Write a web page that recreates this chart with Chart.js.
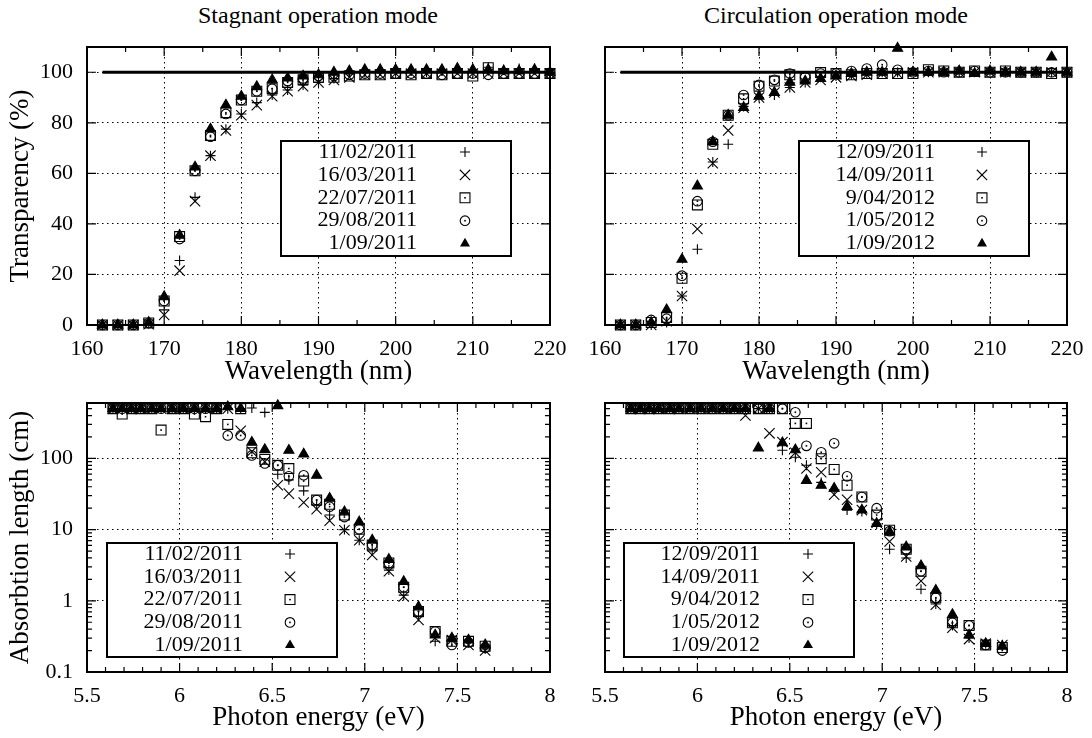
<!DOCTYPE html>
<html><head><meta charset="utf-8">
<script src="https://cdn.jsdelivr.net/npm/chart.js@4.4.1/dist/chart.umd.min.js"></script>
<style>
html,body{margin:0;padding:0;background:#fff;}
body{width:1092px;height:738px;position:relative;overflow:hidden;font-family:'Liberation Serif',serif;}
.box{position:absolute;}
.ttl{position:absolute;top:0;font-family:'Liberation Serif',serif;font-size:24px;color:#000;text-align:center;width:500px;line-height:30px;}
</style></head>
<body>
<div class="ttl" style="left:68px">Stagnant operation mode</div>
<div class="ttl" style="left:586px">Circulation operation mode</div>
<div class="box" style="left:0;top:0;width:590px;height:392px"><canvas id="tl"></canvas></div>
<div class="box" style="left:518px;top:0;width:589px;height:392px"><canvas id="tr"></canvas></div>
<div class="box" style="left:0;top:360px;width:590px;height:378px"><canvas id="bl"></canvas></div>
<div class="box" style="left:518px;top:360px;width:589px;height:378px"><canvas id="br"></canvas></div>
<script>
// ---------- data ----------
const wavelength = [162,164,166,168,170,172,174,176,178,180,182,184,186,188,190,192,194,196,198,200,202,204,206,208,210,212,214,216,218,220];
const energy = [7.65,7.56,7.47,7.38,7.29,7.21,7.13,7.04,6.97,6.89,6.81,6.74,6.67,6.59,6.53,6.46,6.39,6.33,6.26,6.20,6.14,6.08,6.02,5.96,5.90,5.85,5.79,5.74,5.69,5.64];

const stagnantDates = ['11/02/2011','16/03/2011','22/07/2011','29/08/2011','1/09/2011'];
const circulationDates = ['12/09/2011','14/09/2011','9/04/2012','1/05/2012','1/09/2012'];

// transparency (%) - stagnant
const tS1 = [0,0,0,0.5,6,25.5,50.5,67,77.5,83.5,88,91,93,95,96,97.5,100.5,100,101,100,100.5,100,101,101.5,101,102,101,101.5,101.5,101];
const tS2 = [0,0,0,0.3,4,21.5,49,67,77,83,87,90.5,92.5,94.5,96,97,98,99,99,99.5,99.5,99.5,99.5,99.5,99.5,99.5,99.5,99.5,99.5,99.5];
const tS3 = [0,0,0,0.8,9.5,35,61,75,84,89,92.5,93.5,96,97,98,98,98.5,99,99,99.5,99,99.5,99,99.5,98.5,101.8,99.5,99.5,99.5,99.5];
const tS4 = [0,0,0,0.8,9.5,34,61,74.5,83.5,89,92.5,93.5,96.5,97.5,98.5,98.5,99,99.5,99.5,99.5,99.5,99.5,99,99.5,99.5,99,99.5,99.5,99.5,99.5];
const tS5 = [0,0,0,1,11.2,35.5,62.5,77.5,87,90.5,94.3,97,97.7,98.5,99,100,100.5,101,101,101,101,101,101,101.5,101,101,100.5,100.5,101,100];
// transparency (%) - circulation
const tC1 = [0,0,0,1,11.5,30,64.5,71.5,86.5,90,91,94,96,98,98.5,99,99.5,100,100,100.5,100,100.5,100,100,100.5,100,100,100,100,100];
const tC2 = [0,0,0,1.5,11.5,38,64,77,86,90,92,94,96,97,98,98.5,99,99.5,99.5,100,100,100,100,100,100,100,100,100,100,100];
const tC3 = [0,0,1,3,18.5,47.5,71.5,83,89.5,94.5,96.5,99,97.8,99.9,99.5,99,99.5,99.5,99.5,99.5,101,100.5,100,100.5,100,100.5,100,100,99.5,100];
const tC4 = [0,0,2,2.5,19.5,49,72.5,83,91,95,97,99.5,98,99.5,99.5,100.5,101.5,103,101,100,100.5,100,100,100.5,100,100,100,100,100,100];
const tC5 = [0,0,1,6,26,55,72.5,83,86,90.5,92,96,96.5,97.5,98.5,99.5,100,100,109.5,100,100,100,100.5,99.5,100.5,100,100,100,106,100];

// absorption length (cm) - stagnant
const aS1 = [0.21,0.26,0.27,0.27,0.6,1.2,2.7,5,7.1,10,16,22,35,50,60,443,510,500,500,500,500,500,500,500,500,500,500,500,500,500];
const aS2 = [0.2,0.24,0.28,0.3,0.54,1.15,2.6,4.4,7.1,9.8,13.3,19.4,24,32,42,90,125,245,500,500,500,500,500,500,500,500,500,500,500,500];
const aS3 = [0.23,0.27,0.27,0.37,0.71,1.55,3.4,6.1,10.1,16,22.7,26,48,72,80,97,120,500,300,500,385,420,500,500,250,500,500,500,420,500];
const aS4 = [0.22,0.26,0.24,0.37,0.71,1.55,3.4,6.1,10.1,15,21,26,58,56,80,85,110,210,210,500,500,500,500,500,500,500,500,500,500,500];
const aS5 = [0.24,0.28,0.30,0.33,0.82,1.86,3.8,7.1,12.8,17.7,27.5,58,115,130,550,133,168,500,530,500,500,500,500,500,500,500,500,500,500,500];
// absorption length (cm) - circulation
const aC1 = [0.24,0.25,0.3,0.45,0.9,1.45,4,5.3,12,18,18.8,35,46,80,104,130,500,500,500,500,500,500,500,500,500,500,500,500,500,500];
const aC2 = [0.24,0.25,0.29,0.42,0.88,1.9,4.2,6.8,12.5,18.8,26.3,31,64,72,120,170,225,500,400,500,500,500,500,500,500,500,500,500,500,500];
const aC3 = [0.22,0.24,0.45,0.49,1.1,2.6,5.3,9.8,16,28.7,42,70,99,310,310,500,500,500,500,500,500,500,500,500,500,500,500,500,500,500];
const aC4 = [0.2,0.24,0.45,0.49,1.1,2.6,5.3,9.5,20,28.7,56,163,122,150,445,500,500,500,500,500,500,500,500,500,500,500,500,500,500,500];
const aC5 = [0.23,0.25,0.33,0.64,1.4,3.1,5.7,9.3,12.2,18.8,21,38,42,49,132,165,500,140,500,500,500,500,500,500,500,500,500,500,500,500];

// reference 100% line
const refLineX = [162,220];
const refLineY = [100,100];

// tick labels
const wlTicks = [160,170,180,190,200,210,220];
const trTicks = [0,20,40,60,80,100];
const enTicks = [5.5,6,6.5,7,7.5,8];
const alTicks = [0.1,1,10,100];

// ---------- marker styles ----------
const mStyle = [
  {ps:'cross',    r:5,   fill:false, dot:false},
  {ps:'crossRot', r:7.3, fill:false, dot:false},
  {ps:'rect',     r:7,   fill:false, dot:true},
  {ps:'circle',   r:4.8, fill:false, dot:true},
  {ps:'triangle', r:5.8, fill:true,  dot:false}
];
const MW = 1.1;

function pts(xs,ys){ return xs.map((x,i)=>({x:x,y:ys[i]})).filter(p=>p.y!=null); }
function series(xs,list,labels,withLine){
  const ds=list.map((ys,i)=>({label:labels[i],data:pts(xs,ys),pointStyle:mStyle[i].ps,pointRadius:mStyle[i].r,
    pointBorderWidth:MW,borderWidth:MW,showLine:false,clip:false,order:5-i,borderColor:'#000',pointBorderColor:'#000',
    backgroundColor:mStyle[i].fill?'#000':'rgba(0,0,0,0)',pointBackgroundColor:mStyle[i].fill?'#000':'rgba(0,0,0,0)'}));
  if(withLine){ ds.push({label:'ref',data:pts(refLineX,refLineY),showLine:true,pointRadius:0,borderColor:'#000',borderWidth:3,order:10,clip:false}); }
  return ds;
}

// minor tick positions (axis decorations)
const wlMinor=[165,175,185,195,205,215];
const enMinor=[];
for(let k=56;k<80;k++){ if(k%5!==0) enMinor.push(k/10); }
const alMinor=[];
[0.1,1,10,100].forEach(d=>{ for(let k=2;k<=9;k++){ if(d*k<=600) alMinor.push(d*k); } });

const panelCfg={
  tl:{xMinor:wlMinor,yMinor:[],legend:{x:281,y:141,w:230,h:115,tr:417,sx:465,r0:152,dr:22.9}},
  tr:{xMinor:wlMinor,yMinor:[],legend:{x:281,y:141,w:230,h:115,tr:417,sx:464,r0:152,dr:22.9}},
  bl:{xMinor:enMinor,yMinor:alMinor,legend:{x:107,y:183,w:230,h:114,tr:243,sx:290,r0:194,dr:22.8}},
  br:{xMinor:enMinor,yMinor:alMinor,legend:{x:106,y:183,w:230,h:114,tr:242,sx:290,r0:194,dr:22.8}}
};

function drawMarker(ctx,i,x,y){
  const s=mStyle[i]; ctx.save(); ctx.strokeStyle='#000'; ctx.fillStyle='#000'; ctx.lineWidth=MW; ctx.beginPath();
  if(s.ps==='cross'){ ctx.moveTo(x-s.r,y);ctx.lineTo(x+s.r,y);ctx.moveTo(x,y-s.r);ctx.lineTo(x,y+s.r);ctx.stroke(); }
  else if(s.ps==='crossRot'){ const d=s.r*Math.SQRT1_2; ctx.moveTo(x-d,y-d);ctx.lineTo(x+d,y+d);ctx.moveTo(x+d,y-d);ctx.lineTo(x-d,y+d);ctx.stroke(); }
  else if(s.ps==='rect'){ const d=s.r*Math.SQRT1_2; ctx.rect(x-d,y-d,2*d,2*d); ctx.stroke(); }
  else if(s.ps==='circle'){ ctx.arc(x,y,s.r,0,Math.PI*2); ctx.stroke(); }
  else if(s.ps==='triangle'){ ctx.moveTo(x,y-s.r); ctx.lineTo(x+s.r*Math.sin(Math.PI/3),y+s.r/2); ctx.lineTo(x-s.r*Math.sin(Math.PI/3),y+s.r/2); ctx.closePath(); ctx.fill(); }
  if(s.dot){ ctx.fillRect(x-0.8,y-0.8,1.6,1.6); }
  ctx.restore();
}

const framePlugin={
  id:'frame',
  afterDatasetsDraw(chart){
    const cfg=panelCfg[chart.canvas.id]; if(!cfg) return;
    const {ctx,chartArea:a}=chart; const xs=chart.scales.x, ys=chart.scales.y;
    ctx.save();
    // centre dots of the open square / circle markers
    ctx.fillStyle='#000';
    [2,3].forEach(i=>{ chart.getDatasetMeta(i).data.forEach(el=>{ ctx.fillRect(el.x-0.8,el.y-0.8,1.6,1.6); }); });
    ctx.strokeStyle='#000'; ctx.lineWidth=1.2;
    ctx.beginPath();
    const xt=(v,len)=>{const p=xs.getPixelForValue(v); ctx.moveTo(p,a.bottom);ctx.lineTo(p,a.bottom-len);ctx.moveTo(p,a.top);ctx.lineTo(p,a.top+len);};
    const yt=(v,len)=>{const p=ys.getPixelForValue(v); ctx.moveTo(a.left,p);ctx.lineTo(a.left+len,p);ctx.moveTo(a.right,p);ctx.lineTo(a.right-len,p);};
    xs.ticks.forEach(t=>xt(t.value,9)); cfg.xMinor.forEach(v=>xt(v,5));
    ys.ticks.forEach(t=>yt(t.value,9)); cfg.yMinor.forEach(v=>yt(v,5));
    ctx.stroke();
    ctx.lineWidth=2; ctx.strokeRect(a.left,a.top,a.right-a.left,a.bottom-a.top);
    // legend
    const L=cfg.legend;
    ctx.fillStyle='#fff'; ctx.fillRect(L.x,L.y,L.w,L.h);
    ctx.lineWidth=2; ctx.strokeStyle='#000'; ctx.strokeRect(L.x,L.y,L.w,L.h);
    ctx.fillStyle='#000'; ctx.font="22px 'Liberation Serif'"; ctx.textAlign='right'; ctx.textBaseline='middle';
    for(let i=0;i<5;i++){
      const ds=chart.data.datasets[i]; const yy=L.r0+i*L.dr;
      ctx.fillText(ds.label,L.tr,yy);
      drawMarker(ctx,i,L.sx,yy);
    }
    ctx.restore();
  }
};

Chart.defaults.font.family="'Liberation Serif', serif";
Chart.defaults.color='#000';

function axisCommon(ticksArr,min,max,type,showLabels,fitKey,fitVal,title,titlePad){
  return {
    type:type,min:min,max:max,
    afterBuildTicks:s=>{ s.ticks=ticksArr.map(v=>({value:v})); },
    afterFit:s=>{ s[fitKey]=fitVal; },
    ticks:{display:showLabels,callback:v=>String(v),font:{size:22},color:'#000',padding:fitKey==='height'?11:14,maxRotation:0,autoSkip:false},
    grid:{color:'#000',lineWidth:1,drawTicks:false},
    border:{display:false,dash:[1.5,3.5]},
    title:{display:!!title,text:title||'',font:{size:27},color:'#000',padding:titlePad}
  };
}

function makeChart(id,datasets,xs,ys,padding){
  new Chart(document.getElementById(id),{
    type:'scatter',
    data:{datasets:datasets},
    options:{
      responsive:true,maintainAspectRatio:false,animation:false,
      layout:{padding:padding},
      plugins:{legend:{display:false},tooltip:{enabled:false},title:{display:false}},
      scales:{x:xs,y:ys}
    },
    plugins:[framePlugin]
  });
}

// top-left
makeChart('tl',series(wavelength,[tS1,tS2,tS3,tS4,tS5],stagnantDates,true),
  axisCommon(wlTicks,160,220,'linear',true,'height',67,'Wavelength (nm)',{top:0,bottom:4}),
  axisCommon(trTicks,0,110,'linear',true,'width',87,'Transparency (%)',{top:5,bottom:0}),
  {top:47,right:40,left:0,bottom:0});
// top-right
makeChart('tr',series(wavelength,[tC1,tC2,tC3,tC4,tC5],circulationDates,true),
  axisCommon(wlTicks,160,220,'linear',true,'height',67,'Wavelength (nm)',{top:0,bottom:4}),
  axisCommon(trTicks,0,110,'linear',false,'width',87,null,{top:5,bottom:0}),
  {top:47,right:40,left:0,bottom:0});
// bottom-left
makeChart('bl',series(energy,[aS1,aS2,aS3,aS4,aS5],stagnantDates,false),
  axisCommon(enTicks,5.5,8,'linear',true,'height',66,'Photon energy (eV)',{top:0,bottom:4}),
  axisCommon(alTicks,0.1,600,'logarithmic',true,'width',87,'Absorbtion length (cm)',{top:5,bottom:0}),
  {top:43,right:40,left:0,bottom:0});
// bottom-right
makeChart('br',series(energy,[aC1,aC2,aC3,aC4,aC5],circulationDates,false),
  axisCommon(enTicks,5.5,8,'linear',true,'height',66,'Photon energy (eV)',{top:0,bottom:4}),
  axisCommon(alTicks,0.1,600,'logarithmic',false,'width',87,null,{top:5,bottom:0}),
  {top:43,right:40,left:0,bottom:0});
</script>
</body></html>
